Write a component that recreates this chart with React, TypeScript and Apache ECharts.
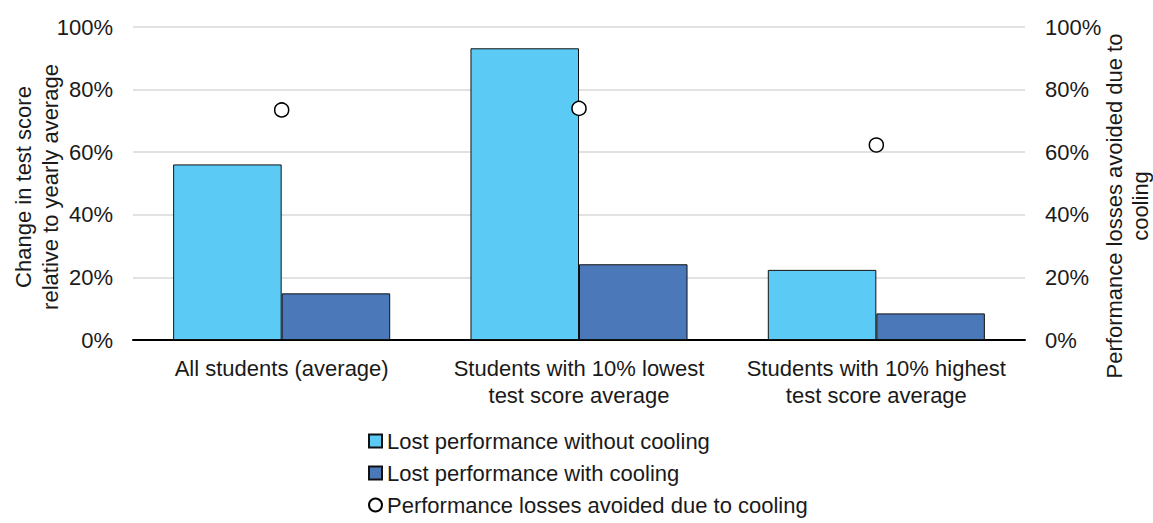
import React, { useEffect, useRef } from "react";
import * as echarts from "echarts";

const categories = [
  "All students (average)",
  "Students with 10% lowest\ntest score average",
  "Students with 10% highest\ntest score average",
];
const lostWithoutCooling = [56.1, 93.2, 22.4];
const lostWithCooling = [14.9, 24.2, 8.5];
const lossesAvoided = [73.5, 74.0, 62.3];
const seriesNames = [
  "Lost performance without cooling",
  "Lost performance with cooling",
  "Performance losses avoided due to cooling",
];
const legendIcons = ["rect", "rect", "circle"];
const leftTitle = "Change in test score\nrelative to yearly average";
const rightTitle = "Performance losses avoided due to\ncooling";

const FONT = '"Liberation Sans", Arial, sans-serif';
const TXT = "#1a1a1a";

export default function App() {
  const ref = useRef<HTMLDivElement>(null);
  useEffect(() => {
    if (!ref.current) return;
    const chart = echarts.init(ref.current, null, { renderer: "svg" });
    chart.setOption({
      animation: false,
      backgroundColor: "#ffffff",
      textStyle: { fontFamily: FONT },
      grid: { left: 133, right: 128, top: 27, bottom: 183, containLabel: false },
      legend: {
        orient: "vertical",
        left: 368,
        top: 430,
        height: 200,
        padding: 0,
        itemWidth: 13,
        itemHeight: 13,
        itemGap: 10,
        textStyle: { fontSize: 22, lineHeight: 22, color: TXT, fontFamily: FONT },
        data: seriesNames.map((n, i) => ({ name: n, icon: legendIcons[i] })),
      },
      xAxis: {
        type: "category",
        data: categories,
        axisLine: { show: true, lineStyle: { color: "#000", width: 2 } },
        axisTick: { show: false },
        axisLabel: {
          fontSize: 22,
          color: TXT,
          fontFamily: FONT,
          lineHeight: 27,
          margin: 15,
          interval: 0,
        },
      },
      yAxis: [
        {
          type: "value",
          min: 0,
          max: 100,
          interval: 20,
          axisLine: { show: false },
          axisTick: { show: false },
          axisLabel: {
            formatter: "{value}%",
            fontSize: 22,
            color: TXT,
            fontFamily: FONT,
            margin: 20,
          },
          splitLine: { show: true, lineStyle: { color: "#d9d9d9", width: 1.5 } },
        },
        {
          type: "value",
          min: 0,
          max: 100,
          interval: 20,
          position: "right",
          axisLine: { show: false },
          axisTick: { show: false },
          axisLabel: {
            formatter: "{value}%",
            fontSize: 22,
            color: TXT,
            fontFamily: FONT,
            margin: 20,
          },
          splitLine: { show: false },
        },
      ],
      graphic: [
        {
          type: "text",
          x: 37,
          y: 187,
          rotation: Math.PI / 2,
          style: {
            text: leftTitle,
            fontSize: 22,
            fontFamily: FONT,
            fill: TXT,
            align: "center",
            verticalAlign: "middle",
            lineHeight: 27,
          },
        },
        {
          type: "text",
          x: 1127,
          y: 206,
          rotation: Math.PI / 2,
          style: {
            text: rightTitle,
            fontSize: 22,
            fontFamily: FONT,
            fill: TXT,
            align: "center",
            verticalAlign: "middle",
            lineHeight: 26,
          },
        },
      ],
      series: [
        {
          name: seriesNames[0],
          type: "bar",
          data: lostWithoutCooling,
          barGap: "0%",
          barCategoryGap: "27%",
          itemStyle: { color: "#5bcbf5", borderColor: "#111", borderWidth: 1 },
        },
        {
          name: seriesNames[1],
          type: "bar",
          data: lostWithCooling,
          barGap: "0%",
          barCategoryGap: "27%",
          itemStyle: { color: "#4a78b9", borderColor: "#111", borderWidth: 1 },
        },
        {
          name: seriesNames[2],
          type: "scatter",
          yAxisIndex: 1,
          data: lossesAvoided,
          symbol: "circle",
          symbolSize: 14,
          itemStyle: { color: "#ffffff", borderColor: "#000", borderWidth: 1.5, opacity: 1 },
          z: 5,
        },
      ],
    });
    return () => chart.dispose();
  }, []);
  return (
    <div
      ref={ref}
      style={{ position: "absolute", left: 0, top: 0, width: 1153, height: 523 }}
    />
  );
}
